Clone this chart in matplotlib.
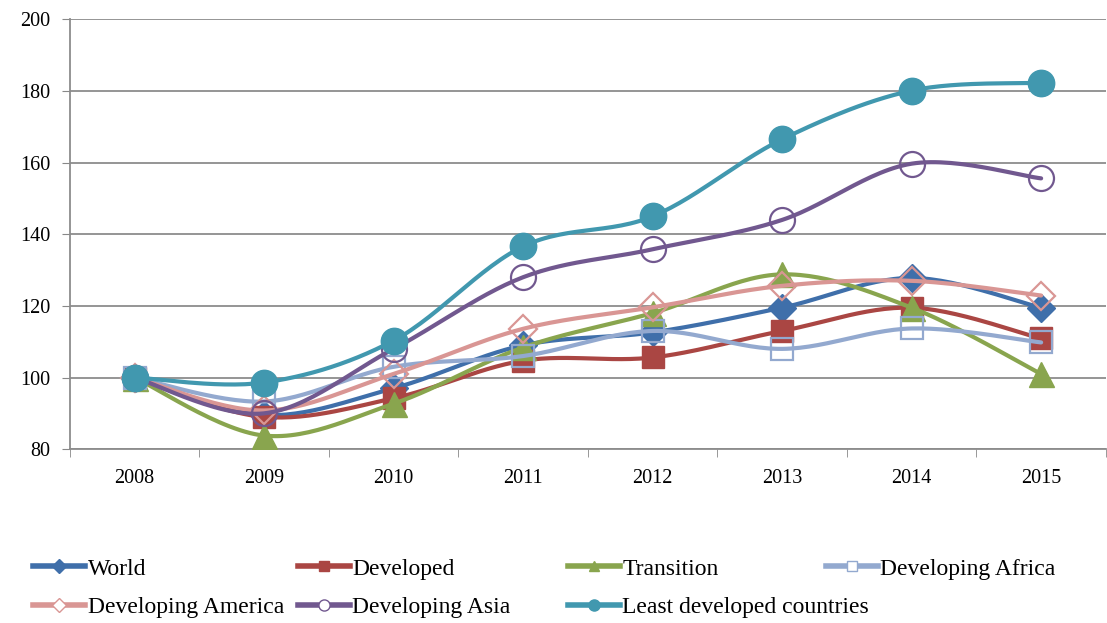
import numpy as np
import matplotlib
matplotlib.use("Agg")
import matplotlib.pyplot as plt
from matplotlib.lines import Line2D

plt.rcParams['font.family'] = ['Liberation Serif', 'DejaVu Serif']

years = ['2008', '2009', '2010', '2011', '2012', '2013', '2014', '2015']
world = [100, 89.5, 97, 109, 112.6, 119.5, 127.8, 119.5]
developed = [100, 89, 94.2, 104.7, 105.6, 113, 119.5, 110.9]
transition = [100, 83.8, 92.7, 108.4, 118, 128.8, 119.5, 101]
dev_africa = [100, 93.3, 103, 106, 113, 108, 113.7, 109.8]
dev_america = [100, 90.8, 101, 113.6, 119.6, 125.6, 127, 122.9]
dev_asia = [100, 90, 108, 128, 135.8, 144, 159.7, 155.6]
ldc = [100, 98.6, 110.3, 136.6, 145, 166.5, 180.1, 182.3]

# name, values, color, marker, marker size, filled
series = [
    ('World', world, '#3F6FAA', 'D', 14, True),
    ('Developed', developed, '#AA4643', 's', 16, True),
    ('Transition', transition, '#89A54E', '^', 18, True),
    ('Developing Africa', dev_africa, '#93A9CF', 's', 16, False),
    ('Developing America', dev_america, '#D99694', 'D', 14, False),
    ('Developing Asia', dev_asia, '#71588F', 'o', 18, False),
    ('Least developed countries', ldc, '#4198AF', 'o', 19, True),
]


def smooth(x, y, n=30):
    # excel style smoothed line (bezier through the points)
    x = np.asarray(x, float)
    y = np.asarray(y, float)
    px = np.concatenate([[x[0]], x, [x[-1]]])
    py = np.concatenate([[y[0]], y, [y[-1]]])
    t = np.linspace(0, 1, n)
    xs, ys = [], []
    for i in range(len(x) - 1):
        p0 = np.array([px[i + 1], py[i + 1]])
        p3 = np.array([px[i + 2], py[i + 2]])
        c1 = p0 + (p3 - np.array([px[i], py[i]])) / 6
        c2 = p3 - (np.array([px[i + 3], py[i + 3]]) - p0) / 6
        b = ((1 - t) ** 3)[:, None] * p0 + (3 * (1 - t) ** 2 * t)[:, None] * c1 \
            + (3 * (1 - t) * t ** 2)[:, None] * c2 + (t ** 3)[:, None] * p3
        xs.extend(b[:, 0])
        ys.extend(b[:, 1])
    return xs, ys


fig = plt.figure(figsize=(11.07, 6.23), dpi=100)
ax = fig.add_axes([0.063, 0.279, 0.936, 0.69])

x = np.arange(len(years))
handles = []
for i, (name, vals, col, mk, ms, filled) in enumerate(series):
    sx, sy = smooth(x, vals)
    ax.plot(sx, sy, color=col, lw=3.0, zorder=3 + i * 2, solid_capstyle='round')
    if filled:
        ax.plot(x, vals, ls='none', marker=mk, ms=ms, color=col, mec=col, zorder=4 + i * 2)
    else:
        ax.plot(x, vals, ls='none', marker=mk, ms=ms, mfc='none', mec=col, mew=1.6, zorder=4 + i * 2)
    handles.append(Line2D([], [], color=col, lw=4, marker=mk, ms=7 if mk != 'o' else 8,
                          mfc=col if filled else 'white', mec=col, mew=1))

ax.set_xlim(-0.5, len(years) - 0.5)
ax.set_ylim(80, 200)
ax.set_yticks(range(80, 201, 20))
ax.set_xticks(x)
ax.set_xticklabels(years)
ax.set_xticks(np.arange(-0.5, len(years)), minor=True)
ax.tick_params(axis='x', which='major', length=0, pad=14, labelsize=14.5)
ax.tick_params(axis='x', which='minor', length=6, color='#888888', direction='out')
ax.tick_params(axis='y', length=6, color='#888888', labelsize=14.5, pad=8)
ax.grid(axis='y', color='#8c8c8c', lw=1.3)
for s in ['top', 'right']:
    ax.spines[s].set_visible(False)
ax.spines['left'].set_color('#8c8c8c')
ax.spines['bottom'].set_color('#8c8c8c')
ax.spines['left'].set_linewidth(1.3)
ax.spines['bottom'].set_linewidth(1.3)

# legend: four columns placed like the original
cols = [[0, 4], [1, 5], [2, 6], [3]]
col_x = [0.030, 0.269, 0.513, 0.746]
for c, xpos in zip(cols, col_x):
    fig.legend([handles[k] for k in c], [series[k][0] for k in c], loc='upper left',
               bbox_to_anchor=(xpos, 0.104), frameon=False, fontsize=17,
               handlelength=2.2, handletextpad=0.1, labelspacing=0.72,
               borderaxespad=0, borderpad=0)

fig.savefig('out.png', dpi=100)
